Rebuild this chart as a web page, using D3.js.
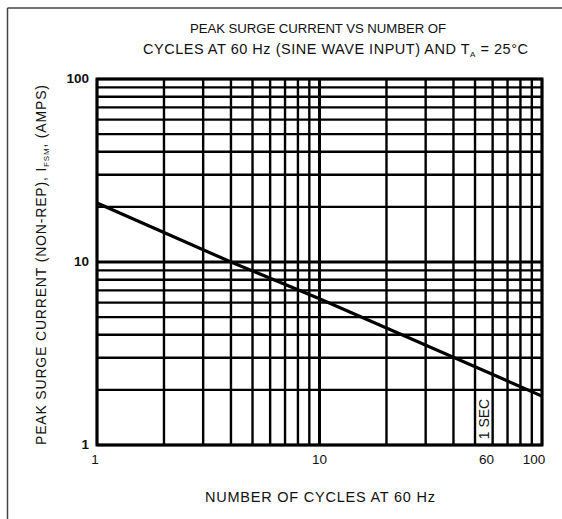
<!DOCTYPE html>
<html>
<head>
<meta charset="utf-8">
<script src="https://cdn.jsdelivr.net/npm/d3@7"></script>
<style>
  body { margin: 0; background: #fff; }
  text { font-family: "Liberation Sans", Arial, sans-serif; fill: #111; }
</style>
</head>
<body>
<svg id="chart"></svg>
<script>
// data
var cycles = [1, 4, 10, 100];
var surgeAmps = [21, 10, 6.3, 1.85];
var xLabels = [1, 10, 60, 100];
var yLabels = [1, 10, 100];
var gridX = [1,2,3,4,5,6,7,8,9,10,20,30,40,50,60,70,80,90,100];
var gridY = [1,2,3,4,5,6,7,8,9,10,20,30,40,50,60,70,80,90,100];

var width = 562, height = 519
var margin = {top: 79, right: 20, bottom: 74, left: 97}

var svg = d3.select("#chart").attr("width", width).attr("height", height)

// outer frame (left and top only)
svg.append("line").attr("x1", 7.5).attr("x2", 7.5).attr("y1", 8).attr("y2", 519)
  .attr("stroke", "#444").attr("stroke-width", 1.5)
svg.append("line").attr("x1", 7.5).attr("x2", 562).attr("y1", 8).attr("y2", 8)
  .attr("stroke", "#444").attr("stroke-width", 1.5)

var x = d3.scaleLog().domain([1, 100]).range([margin.left, 542])
var y = d3.scaleLog().domain([1, 100]).range([445, margin.top])

var g = svg.append("g")

// grid
g.selectAll(".vg").data(gridX).enter().append("line")
  .attr("x1", d => x(d)).attr("x2", d => x(d))
  .attr("y1", y(100)).attr("y2", y(1))
  .attr("stroke", "#000").attr("stroke-width", d => (d == 10 ? 3 : 2.4))

g.selectAll(".hg").data(gridY).enter().append("line")
  .attr("x1", x(1)).attr("x2", x(100))
  .attr("y1", d => y(d)).attr("y2", d => y(d))
  .attr("stroke", "#000").attr("stroke-width", d => (d == 10 ? 3 : 2.4))

g.append("rect").attr("x", x(1)).attr("y", y(100))
  .attr("width", x(100) - x(1)).attr("height", y(1) - y(100))
  .attr("fill", "none").attr("stroke", "#000").attr("stroke-width", 3)

// curve
var pts = cycles.map((c, i) => [c, surgeAmps[i]])
g.append("path").datum(pts)
  .attr("d", d3.line().x(d => x(d[0])).y(d => y(d[1])))
  .attr("fill", "none").attr("stroke", "#000").attr("stroke-width", 3.2)

// tick labels
g.selectAll(".xl").data(xLabels).enter().append("text")
  .attr("x", d => x(d) + (d == 60 ? -6 : d == 100 ? -8 : d == 1 ? -2 : 0))
  .attr("y", 464).attr("text-anchor", "middle")
  .style("font-size", "13.5px").text(d => d)

g.selectAll(".yl").data(yLabels).enter().append("text")
  .attr("x", 89).attr("y", d => y(d) + 4).attr("text-anchor", "end")
  .style("font-size", "13.5px").style("font-weight", "bold").text(d => d)

// 1 SEC marker
g.append("text").attr("transform", "translate(" + (x(55) + 5) + ",419) rotate(-90)")
  .attr("text-anchor", "middle").style("font-size", "14px").text("1 SEC")

// titles
svg.append("text").attr("x", 318).attr("y", 33).attr("text-anchor", "middle")
  .attr("textLength", 256).attr("lengthAdjust", "spacing")
  .style("font-size", "13.2px").text("PEAK SURGE CURRENT VS NUMBER OF")
var t2 = svg.append("text").attr("x", 143).attr("y", 54)
  .attr("textLength", 385).attr("lengthAdjust", "spacing")
  .style("font-size", "14.5px")
t2.append("tspan").text("CYCLES AT 60 Hz (SINE WAVE INPUT) AND T")
t2.append("tspan").attr("dy", 3).style("font-size", "8px").text("A")
t2.append("tspan").attr("dy", -3).text("  =  25°C")

svg.append("text").attr("x", 320).attr("y", 502).attr("text-anchor", "middle")
  .attr("textLength", 230).attr("lengthAdjust", "spacing")
  .style("font-size", "14.5px").text("NUMBER OF CYCLES AT 60 Hz")

var yl = svg.append("text").attr("transform", "translate(46,445) rotate(-90)")
  .attr("textLength", 360).attr("lengthAdjust", "spacing")
  .style("font-size", "14px")
yl.append("tspan").text("PEAK SURGE CURRENT (NON-REP), I")
yl.append("tspan").attr("dy", 3).style("font-size", "8px").text("FSM")
yl.append("tspan").attr("dy", -3).text(", (AMPS)")
</script>
</body>
</html>
